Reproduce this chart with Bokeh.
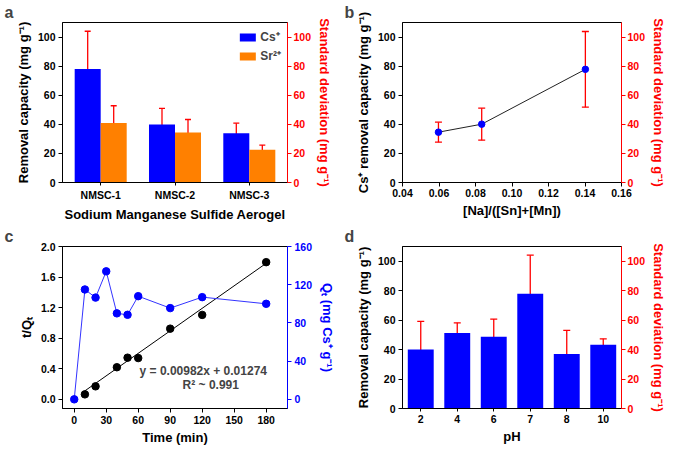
from bokeh.plotting import figure
from bokeh.models import (Range1d, FactorRange, LinearAxis, Whisker, ColumnDataSource,
                          Label, Legend, LegendItem, FixedTicker, TeeHead, NumeralTickFormatter)
from bokeh.layouts import gridplot
from bokeh.embed import file_html
from bokeh.resources import INLINE

# ---------------- data ----------------
# (a) removal capacity by aerogel
aerogels = ["NMSC-1", "NMSC-2", "NMSC-3"]
cs_capacity = [78.0, 39.9, 33.8]
cs_sd = [26.0, 11.0, 7.0]
sr_capacity = [40.9, 34.3, 22.6]
sr_sd = [11.85, 9.0, 3.1]

# (b) Cs+ removal capacity vs [Na]/([Sn]+[Mn])
na_ratio = [0.0597, 0.0834, 0.1402]
cs_capacity_b = [34.6, 40.1, 77.8]
cs_sd_b = [6.9, 11.0, 26.0]

# (c) kinetics
time_min = [0, 10, 20, 30, 40, 50, 60, 90, 120, 180]
qt = [0, 115, 106.5, 134, 90, 88.5, 108, 95.5, 107, 100]
t_qt_time = [10, 20, 40, 50, 60, 90, 120, 180]
t_qt = [0.065, 0.17, 0.42, 0.545, 0.54, 0.925, 1.105, 1.795]
fit_slope = 0.00982
fit_intercept = 0.01274
fit_r2 = 0.991

# (d) pH dependence
ph_labels = ["2", "4", "6", "7", "8", "10"]
ph_capacity = [40.0, 51.3, 48.7, 77.9, 37.0, 43.3]
ph_sd = [19.15, 6.9, 12.0, 26.2, 16.0, 4.0]

# ---------------- style ----------------
FONT = "Liberation Sans"
BLUE = "#0000FF"
ORANGE = "#FF8000"
RED = "#FF0000"


def style_axis(ax, color="black", tick_out=4):
    ax.axis_line_color = color
    ax.major_tick_line_color = color
    ax.major_label_text_color = color
    ax.axis_label_text_color = color
    ax.major_tick_out = tick_out
    ax.major_tick_in = 0
    ax.minor_tick_line_color = None
    ax.major_label_text_font = FONT
    ax.axis_label_text_font = FONT
    ax.major_label_text_font_style = "bold"
    ax.axis_label_text_font_style = "bold"
    ax.major_label_text_font_size = "10.5px"
    ax.axis_label_text_font_size = "13px"
    ax.major_label_standoff = 3
    ax.axis_label_standoff = 4


def make_fig(w, h, x_range, y_range, left, right, top, bottom, letter, letter_offset):
    p = figure(width=w, height=h, x_range=x_range, y_range=y_range,
               output_backend="svg", toolbar_location=None, title=letter,
               min_border_left=left, min_border_right=right,
               min_border_top=top, min_border_bottom=bottom)
    p.grid.visible = False
    p.outline_line_color = "black"
    p.outline_line_width = 1
    p.title.align = "left"
    p.title.offset = letter_offset
    p.title.standoff = 0
    p.title.vertical_align = "top"
    p.title.text_font = FONT
    p.title.text_font_style = "bold"
    p.title.text_font_size = "16px"
    return p


def add_right_sd_axis(p, color=RED):
    p.extra_y_ranges = {"sd": Range1d(0, 110)}
    ax = LinearAxis(y_range_name="sd", axis_label="Standard deviation (mg g\u207b\u00b9)",
                    ticker=FixedTicker(ticks=[0, 20, 40, 60, 80, 100]))
    style_axis(ax, color)
    ax.major_label_standoff = 2
    ax.axis_label_standoff = 3
    p.add_layout(ax, "right")


WL, WR = 338, 331
HT, HB = 224, 223

# ---------------- (a) ----------------
pa = make_fig(WL, HT, Range1d(0.486, 3.514), Range1d(0, 110), 62, 43, 22, 35, "a", -58)
xa = list(range(1, len(aerogels) + 1))
off = 0.175
src_cs = ColumnDataSource(dict(x=[v - off for v in xa], top=cs_capacity,
                               upper=[c + s for c, s in zip(cs_capacity, cs_sd)],
                               lower=[c - s for c, s in zip(cs_capacity, cs_sd)]))
src_sr = ColumnDataSource(dict(x=[v + off for v in xa], top=sr_capacity,
                               upper=[c + s for c, s in zip(sr_capacity, sr_sd)],
                               lower=[c - s for c, s in zip(sr_capacity, sr_sd)]))
r_cs = pa.vbar(x="x", top="top", width=0.35, source=src_cs, fill_color=BLUE, line_color=None)
r_sr = pa.vbar(x="x", top="top", width=0.35, source=src_sr, fill_color=ORANGE, line_color=None)
for src in (src_cs, src_sr):
    pa.add_layout(Whisker(base="x", upper="upper", lower="lower", source=src,
                          line_color=RED, line_width=1.3,
                          upper_head=TeeHead(size=6, line_color=RED, line_width=1.3),
                          lower_head=TeeHead(size=6, line_color=RED, line_width=1.3)))
pa.xaxis.ticker = FixedTicker(ticks=xa)
pa.xaxis.major_label_overrides = {v: n for v, n in zip(xa, aerogels)}
pa.xaxis.axis_label = "Sodium Manganese Sulfide Aerogel"
pa.yaxis.axis_label = "Removal capacity (mg g\u207b\u00b9)"
pa.yaxis.ticker = FixedTicker(ticks=[0, 20, 40, 60, 80, 100])
style_axis(pa.xaxis[0], tick_out=3)
style_axis(pa.yaxis[0])
pa.xaxis.major_label_standoff = 3
pa.xaxis.axis_label_standoff = 3
add_right_sd_axis(pa)
leg = Legend(items=[LegendItem(label="Cs\u207a", renderers=[r_cs]),
                    LegendItem(label="Sr\u00b2\u207a", renderers=[r_sr])],
             location="top_right", margin=6, padding=1, spacing=2,
             glyph_width=20, glyph_height=10, label_height=10, label_standoff=3,
             label_text_font=FONT, label_text_font_style="bold", label_text_font_size="12px",
             border_line_color=None, background_fill_alpha=0)
pa.add_layout(leg)

# ---------------- (b) ----------------
pb = make_fig(WR, HT, Range1d(0.04, 0.16), Range1d(0, 110), 64, 40, 22, 35, "b", -58)
src_b = ColumnDataSource(dict(x=na_ratio, y=cs_capacity_b,
                              upper=[c + s for c, s in zip(cs_capacity_b, cs_sd_b)],
                              lower=[c - s for c, s in zip(cs_capacity_b, cs_sd_b)]))
pb.line("x", "y", source=src_b, line_color="#222222", line_width=1)
pb.add_layout(Whisker(base="x", upper="upper", lower="lower", source=src_b,
                      line_color=RED, line_width=1.3,
                      upper_head=TeeHead(size=7, line_color=RED, line_width=1.3),
                      lower_head=TeeHead(size=7, line_color=RED, line_width=1.3)))
pb.scatter("x", "y", source=src_b, size=6.5, fill_color=BLUE, line_color=BLUE)
pb.xaxis.ticker = FixedTicker(ticks=[0.04, 0.06, 0.08, 0.10, 0.12, 0.14, 0.16])
pb.xaxis.formatter = NumeralTickFormatter(format="0.00")
pb.yaxis.ticker = FixedTicker(ticks=[0, 20, 40, 60, 80, 100])
pb.xaxis.axis_label = "[Na]/([Sn]+[Mn])"
pb.yaxis.axis_label = "Cs\u207a removal capacity (mg g\u207b\u00b9)"
style_axis(pb.xaxis[0])
style_axis(pb.yaxis[0])
pb.xaxis.major_label_standoff = 2
pb.xaxis.axis_label_standoff = 3
add_right_sd_axis(pb)

# ---------------- (c) ----------------
pc = make_fig(WL, HB, Range1d(-11, 200), Range1d(-0.12, 2.0), 62, 43, 22, 35, "c", -58)
pc.extra_y_ranges = {"qt": Range1d(-9.6, 160)}
fit_x = [t_qt_time[0], t_qt_time[-1]]
fit_y = [fit_slope * v + fit_intercept for v in fit_x]
pc.line(fit_x, fit_y, line_color="black", line_width=1)
pc.scatter(t_qt_time, t_qt, size=7.5, fill_color="black", line_color="black")
pc.line(time_min, qt, y_range_name="qt", line_color="#3333FF", line_width=1)
pc.scatter(time_min, qt, y_range_name="qt", size=7.5, fill_color=BLUE, line_color=BLUE)
pc.xaxis.ticker = FixedTicker(ticks=[0, 30, 60, 90, 120, 150, 180])
pc.yaxis.ticker = FixedTicker(ticks=[0.0, 0.4, 0.8, 1.2, 1.6, 2.0])
pc.yaxis.formatter = NumeralTickFormatter(format="0.0")
pc.xaxis.axis_label = "Time (min)"
pc.yaxis.axis_label = "t/Q\u209c"
style_axis(pc.xaxis[0])
style_axis(pc.yaxis[0])
pc.xaxis.major_label_standoff = 3
pc.xaxis.axis_label_standoff = 3
axq = LinearAxis(y_range_name="qt", axis_label="Q\u209c (mg Cs\u207a g\u207b\u00b9)",
                 ticker=FixedTicker(ticks=[0, 40, 80, 120, 160]))
style_axis(axq, BLUE)
axq.major_label_standoff = 3
axq.axis_label_standoff = 5
pc.add_layout(axq, "right")
pc.add_layout(Label(x=121, y=0.37, text=f"y = {fit_slope}x + {fit_intercept}",
                    text_font=FONT, text_font_style="bold", text_font_size="12px",
                    text_align="center", text_baseline="middle"))
pc.add_layout(Label(x=128, y=0.19, text=f"R\u00b2 ~ {fit_r2}",
                    text_font=FONT, text_font_style="bold", text_font_size="12px",
                    text_align="center", text_baseline="middle"))

# ---------------- (d) ----------------
pd_ = make_fig(WR, HB, FactorRange(factors=ph_labels), Range1d(0, 110), 64, 40, 22, 35, "d", -58)
src_d = ColumnDataSource(dict(ph=ph_labels, top=ph_capacity,
                              upper=[c + s for c, s in zip(ph_capacity, ph_sd)],
                              lower=[c - s for c, s in zip(ph_capacity, ph_sd)]))
pd_.vbar(x="ph", top="top", width=0.71, source=src_d, fill_color=BLUE, line_color=None)
pd_.add_layout(Whisker(base="ph", upper="upper", lower="lower", source=src_d,
                       line_color=RED, line_width=1.3,
                       upper_head=TeeHead(size=7, line_color=RED, line_width=1.3),
                       lower_head=TeeHead(size=7, line_color=RED, line_width=1.3)))
pd_.yaxis.ticker = FixedTicker(ticks=[0, 20, 40, 60, 80, 100])
pd_.xaxis.axis_label = "pH"
pd_.yaxis.axis_label = "Removal capacity (mg g\u207b\u00b9)"
style_axis(pd_.xaxis[0], tick_out=3)
style_axis(pd_.yaxis[0])
pd_.xaxis.major_label_standoff = 3
pd_.xaxis.axis_label_standoff = 3
add_right_sd_axis(pd_)

grid = gridplot([[pa, pb], [pc, pd_]], toolbar_location=None)
open("out.html", "w").write(file_html(grid, INLINE))
